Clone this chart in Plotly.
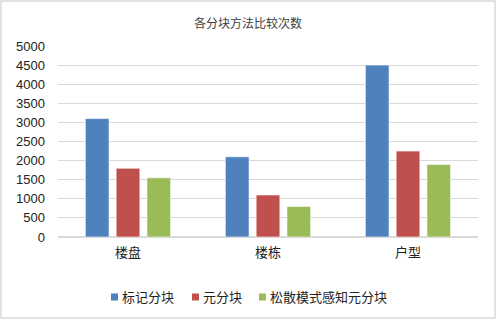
import plotly.graph_objects as go

categories = ["楼盘", "楼栋", "户型"]
series_names = ["标记分块", "元分块", "松散模式感知元分块"]
biaoji = [3100, 2100, 4500]
yuan = [1800, 1100, 2250]
songsan = [1550, 800, 1900]
colors = ["#4F81BD", "#C0504D", "#9BBB59"]
y_ticks = [0, 500, 1000, 1500, 2000, 2500, 3000, 3500, 4000, 4500, 5000]

fig = go.Figure()
for name, vals, c in zip(series_names, [biaoji, yuan, songsan], colors):
    fig.add_trace(go.Bar(x=categories, y=vals, name=name, marker_color=c,
                         marker_line=dict(color="rgba(255,255,255,0.6)", width=1),
                         showlegend=False))

W, H = 500, 324
L, R, T, B = 58, 22, 46, 87
pw, ph = W - L - R, H - T - B

def px2x(p):
    return (p - L) / pw

def py2y(p):
    return (H - B - p) / ph

font_fam = "Liberation Sans, Noto Sans CJK SC, sans-serif"

shapes = [dict(type="rect", xref="paper", yref="paper",
               x0=px2x(1), x1=px2x(495), y0=py2y(318), y1=py2y(1),
               line=dict(color="#D9D9D9", width=1.5))]
annotations = []
legend_sq_x = [111, 192, 259]
legend_y = 297
for name, c, sx in zip(series_names, colors, legend_sq_x):
    shapes.append(dict(type="rect", xref="paper", yref="paper",
                       x0=px2x(sx), x1=px2x(sx + 7), y0=py2y(legend_y + 3.5), y1=py2y(legend_y - 3.5),
                       fillcolor=c, line=dict(width=0)))
    annotations.append(dict(xref="paper", yref="paper", x=px2x(sx + 9), y=py2y(legend_y),
                            xanchor="left", yanchor="middle", showarrow=False, text=name,
                            font=dict(size=13, color="#222")))

fig.update_layout(
    width=W, height=H,
    margin=dict(l=L, r=R, t=T, b=B),
    paper_bgcolor="white", plot_bgcolor="white",
    barmode="group", bargap=0.34, bargroupgap=0.23,
    title=dict(text="各分块方法比较次数", x=0.496, xanchor="center", y=1 - 24 / H, yanchor="middle",
               font=dict(family="Noto Sans CJK SC", size=12, color="#404040")),
    font=dict(family=font_fam, size=13, color="#222"),
    xaxis=dict(showgrid=False, showline=False, tickfont=dict(size=13), ticks="", ticklabelstandoff=6),
    yaxis=dict(range=[0, 5000], tickvals=y_ticks, showgrid=True, gridcolor="#D9D9D9", gridwidth=1,
               zeroline=True, zerolinecolor="#D9D9D9", showline=False, ticklabelstandoff=12,
               tickfont=dict(size=13)),
    showlegend=False,
    shapes=shapes,
    annotations=annotations,
)

fig.write_html("out.html", config={"displayModeBar": False},
               post_script="document.body.style.margin='0px';")
